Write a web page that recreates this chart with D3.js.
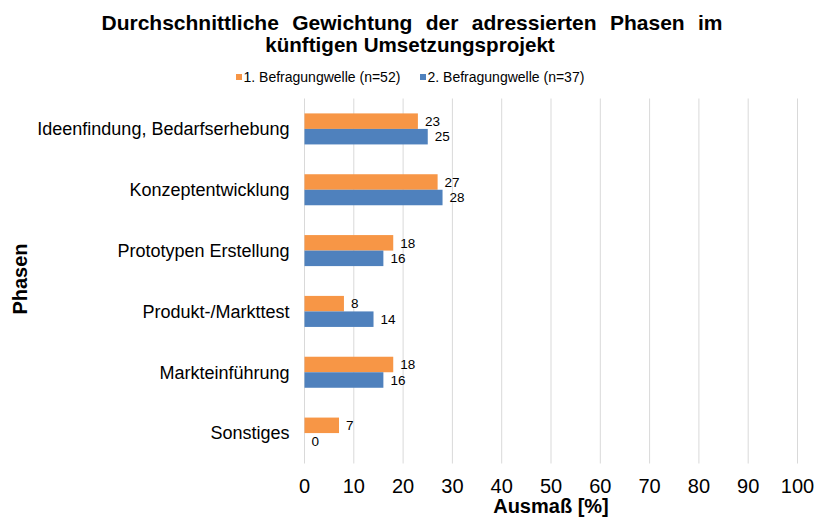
<!DOCTYPE html>
<html>
<head>
<meta charset="utf-8">
<script src="https://cdn.jsdelivr.net/npm/d3@7"></script>
<style>
  body { margin: 0; background: #fff; }
  text { font-family: "Liberation Sans", Arial, sans-serif; fill: #000; }
</style>
</head>
<body>
<svg id="chart"></svg>
<script>
var categories = ["Ideenfindung, Bedarfserhebung", "Konzeptentwicklung", "Prototypen Erstellung",
                  "Produkt-/Markttest", "Markteinführung", "Sonstiges"];
var seriesNames = ["1. Befragungwelle (n=52)", "2. Befragungwelle (n=37)"];
var welle1 = [23, 27, 18, 8, 18, 7];
var welle2 = [25, 28, 16, 14, 16, 0];
var xTicks = [0, 10, 20, 30, 40, 50, 60, 70, 80, 90, 100];
var colors = ["#F79646", "#4F81BD"];

var width = 814, height = 523;
var margin = {top: 98.5, right: 16.5, bottom: 59.5, left: 304.5};

var svg = d3.select("#chart").attr("width", width).attr("height", height);

var x = d3.scaleLinear()
  .domain([0, 100])
  .range([margin.left, width - margin.right]);

var y = d3.scaleBand()
  .domain(categories)
  .range([margin.top, height - margin.bottom])
  .paddingInner(0.49)
  .paddingOuter(0.245);

var inner = d3.scaleBand()
  .domain([0, 1])
  .range([0, y.bandwidth()]);

// gridlines
svg.append("g")
  .selectAll("line")
  .data(xTicks)
  .enter().append("line")
  .attr("x1", function(d) { return x(d); })
  .attr("x2", function(d) { return x(d); })
  .attr("y1", margin.top)
  .attr("y2", height - margin.bottom)
  .attr("stroke", "#d9d9d9")
  .attr("stroke-width", 1);

// bars
var data = categories.map(function(c, i) { return {cat: c, vals: [welle1[i], welle2[i]]}; });

var group = svg.append("g").selectAll("g")
  .data(data)
  .enter().append("g")
  .attr("transform", function(d) { return "translate(0," + y(d.cat) + ")"; });

group.selectAll("rect")
  .data(function(d) { return d.vals; })
  .enter().append("rect")
  .attr("x", x(0))
  .attr("y", function(d, i) { return inner(i); })
  .attr("width", function(d) { return x(d) - x(0); })
  .attr("height", inner.bandwidth())
  .attr("fill", function(d, i) { return colors[i]; });

group.selectAll(".val")
  .data(function(d) { return d.vals; })
  .enter().append("text")
  .attr("class", "val")
  .attr("x", function(d) { return x(d) + 7; })
  .attr("y", function(d, i) { return inner(i) + inner.bandwidth() / 2; })
  .attr("dy", "0.35em")
  .style("font-size", "13.5px")
  .text(function(d) { return d; });

// category labels
svg.append("g").selectAll("text")
  .data(categories)
  .enter().append("text")
  .attr("x", margin.left - 15)
  .attr("y", function(d) { return y(d) + y.bandwidth() / 2; })
  .attr("dy", "0.35em")
  .attr("text-anchor", "end")
  .style("font-size", "18px")
  .text(function(d) { return d; });

// x tick labels
svg.append("g").selectAll("text")
  .data(xTicks)
  .enter().append("text")
  .attr("x", function(d) { return x(d); })
  .attr("y", 493)
  .attr("text-anchor", "middle")
  .style("font-size", "20px")
  .text(function(d) { return d; });

// axis titles
svg.append("text")
  .attr("x", 551)
  .attr("y", 513)
  .attr("text-anchor", "middle")
  .style("font-size", "20px")
  .style("font-weight", "bold")
  .text("Ausmaß [%]");

svg.append("text")
  .attr("transform", "translate(27,279) rotate(-90)")
  .attr("text-anchor", "middle")
  .style("font-size", "20px")
  .style("font-weight", "bold")
  .text("Phasen");

// title
svg.append("text")
  .attr("x", 412)
  .attr("y", 30)
  .attr("text-anchor", "middle")
  .style("font-size", "21px")
  .style("font-weight", "bold")
  .style("word-spacing", "7.5px")
  .text("Durchschnittliche Gewichtung der adressierten Phasen im");

svg.append("text")
  .attr("x", 410)
  .attr("y", 52)
  .attr("text-anchor", "middle")
  .style("font-size", "20.6px")
  .style("font-weight", "bold")
  .text("künftigen Umsetzungsprojekt");

// legend
var legX = [236, 420];
var leg = svg.append("g").selectAll("g")
  .data(seriesNames)
  .enter().append("g")
  .attr("transform", function(d, i) { return "translate(" + legX[i] + ",77)"; });

leg.append("rect")
  .attr("x", 0).attr("y", -3)
  .attr("width", 6).attr("height", 6)
  .attr("fill", function(d, i) { return colors[i]; });

leg.append("text")
  .attr("x", 7.5)
  .attr("y", 0)
  .attr("dy", "0.35em")
  .style("font-size", "14px")
  .text(function(d) { return d; });
</script>
</body>
</html>
